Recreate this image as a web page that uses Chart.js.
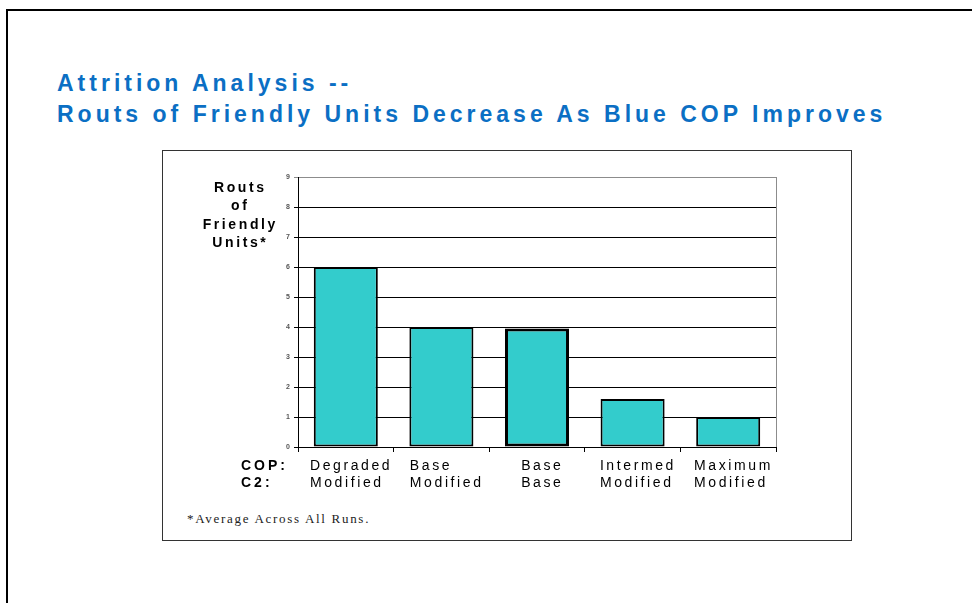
<!DOCTYPE html>
<html>
<head>
<meta charset="utf-8">
<script src="https://cdn.jsdelivr.net/npm/chart.js@4.4.1/dist/chart.umd.min.js"></script>
<style>
  html, body { margin: 0; padding: 0; background: #fff; }
  body { width: 972px; height: 603px; position: relative; overflow: hidden; }
  #frameTop { position: absolute; left: 6px; top: 9px; width: 966px; height: 2px; background: #000; }
  #frameLeft { position: absolute; left: 6px; top: 9px; width: 2px; height: 594px; background: #000; }
  #title {
    position: absolute; left: 57px; top: 68px; margin: 0;
    font: bold 23px "Liberation Sans", Arial, sans-serif;
    line-height: 31px; letter-spacing: 4px; color: #0b6fc4; white-space: nowrap;
  }
  #panel { position: absolute; left: 162px; top: 150px; width: 688px; height: 389px; border: 1px solid #333; }
  #note {
    position: absolute; left: 187px; top: 511px;
    font: 13px "Liberation Serif", "Times New Roman", serif; letter-spacing: 1.7px; color: #222;
  }
  #chart { position: absolute; left: 0; top: 0; }
</style>
</head>
<body>
<div id="frameTop"></div>
<div id="frameLeft"></div>
<div id="title">Attrition Analysis --<br>Routs of Friendly Units Decrease As Blue COP Improves</div>
<div id="panel"></div>
<div id="note">*Average Across All Runs.</div>
<canvas id="chart" width="972" height="603"></canvas>
<script>
// Scenario labels: common operating picture (COP) and command & control (C2)
const copLevels = ['Degraded', 'Base', 'Base', 'Intermed', 'Maximum'];
const c2Levels  = ['Modified', 'Modified', 'Base', 'Modified', 'Modified'];
// Average routs of friendly units per scenario
const routs = [6, 4, 3.95, 1.6, 1];
const outlineWidths = [2, 2, 3, 2, 2];
const yTitleLines = ['Routs', 'of', 'Friendly', 'Units*'];
const rowHeaders = ['COP:', 'C2:'];

const labelFont = '"Liberation Sans", Arial, sans-serif';

const annotate = {
  id: 'annotate',
  afterDraw(chart) {
    const { ctx, chartArea, scales } = chart;
    ctx.save();
    // light frame edge on the right of the plot
    ctx.strokeStyle = '#8c8c8c';
    ctx.lineWidth = 1;
    ctx.beginPath();
    ctx.moveTo(Math.round(chartArea.right) + 0.5, chartArea.top);
    ctx.lineTo(Math.round(chartArea.right) + 0.5, chartArea.bottom);
    ctx.stroke();

    ctx.fillStyle = '#000';
    ctx.textBaseline = 'alphabetic';

    // vertical axis title, stacked lines
    ctx.font = 'bold 14px ' + labelFont;
    ctx.letterSpacing = '2.6px';
    ctx.textAlign = 'left';
    yTitleLines.forEach((t, i) => {
      const w = ctx.measureText(t).width - 2.6;
      ctx.fillText(t, 239 - w / 2, chartArea.top + 15 + i * 18.3);
    });

    // row headers below the axis
    ctx.letterSpacing = '3px';
    rowHeaders.forEach((t, i) => {
      ctx.fillText(t, 241, chartArea.bottom + 23 + i * 17);
    });

    // two-line category labels, left-aligned within each block
    ctx.font = '14px ' + labelFont;
    ctx.letterSpacing = '2.6px';
    const xs = scales.x;
    copLevels.forEach((cop, i) => {
      const c2 = c2Levels[i];
      const w = Math.max(ctx.measureText(cop).width, ctx.measureText(c2).width) - 2.6;
      const left = xs.getPixelForValue(i) - w / 2 + 4;
      ctx.fillText(cop, left, chartArea.bottom + 23);
      ctx.fillText(c2, left, chartArea.bottom + 40);
    });
    ctx.restore();
  }
};

new Chart(document.getElementById('chart'), {
  type: 'bar',
  data: {
    labels: copLevels.map((c, i) => c + ' / ' + c2Levels[i]),
    datasets: [{
      data: routs,
      backgroundColor: '#33cccc',
      borderColor: '#000',
      borderWidth: outlineWidths,
      borderSkipped: false,
      barPercentage: 0.67,
      categoryPercentage: 1
    }]
  },
  options: {
    responsive: false,
    devicePixelRatio: 1,
    animation: false,
    layout: { padding: { left: 258, right: 196, top: 177, bottom: 151 } },
    plugins: { legend: { display: false }, tooltip: { enabled: false }, title: { display: false } },
    scales: {
      x: {
        ticks: { display: false },
        grid: { offset: true, drawOnChartArea: false, drawTicks: true, tickLength: 5, color: '#000' },
        border: { display: true, color: '#000', width: 1 },
        afterFit(s) { s.height = 5; }
      },
      y: {
        min: 0, max: 9,
        ticks: { stepSize: 1, color: '#555', padding: 4, font: { size: 7, weight: 'bold', family: labelFont } },
        grid: {
          color: ctx => (ctx.tick && ctx.tick.value === 9 ? '#8c8c8c' : '#000'),
          lineWidth: 1, drawTicks: true, tickLength: 4
        },
        border: { display: true, color: '#000', width: 1 },
        afterFit(s) { s.width = 40; }
      }
    }
  },
  plugins: [annotate]
});
</script>
</body>
</html>
